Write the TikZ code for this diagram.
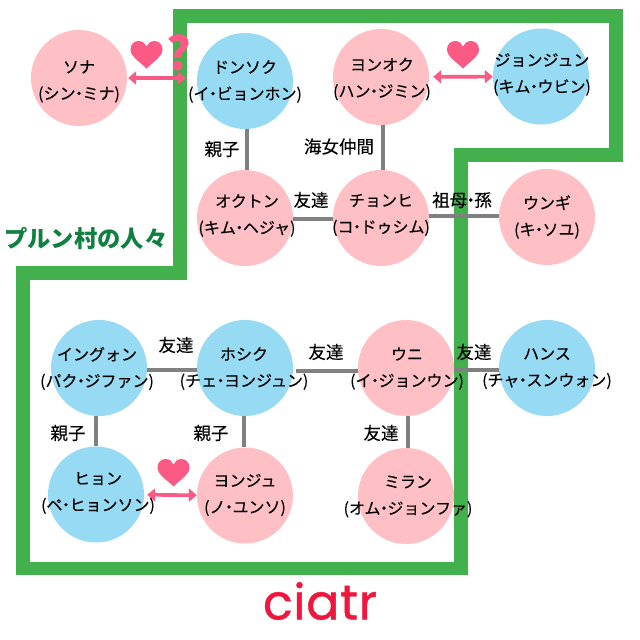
\documentclass[tikz,border=0pt]{standalone}
\usepackage{fontspec}
\setmainfont{Noto Sans CJK JP}[FakeBold=0.2,BoldFeatures={FakeBold=0}]
\newfontfamily\logofont{Poppins}[FakeBold=0.9,LetterSpace=1.5]
\usetikzlibrary{arrows.meta}
\definecolor{pinkc}{HTML}{FFC0C5}
\definecolor{bluec}{HTML}{97DAF4}
\definecolor{greenb}{HTML}{42B04C}
\definecolor{greent}{HTML}{0F8040}
\definecolor{grayl}{HTML}{808080}
\definecolor{love}{HTML}{FB5A85}
\definecolor{logor}{HTML}{F0173F}
\newcommand{\nd}{\makebox[7pt][c]{・}}
\tikzset{
  x=1pt,y=-1pt,
  girl/.style={circle,fill=pinkc,minimum size=96pt,inner sep=0pt},
  boy/.style={circle,fill=bluec,minimum size=96pt,inner sep=0pt},
  who/.style={align=center,inner sep=0pt,font=\fontsize{16}{26.5}\selectfont},
  tie/.style={draw=grayl,line width=4pt},
  tietext/.style={inner sep=0pt,font=\fontsize{17.5}{20}\selectfont},
  lovearrow/.style={draw=love,line width=3.6pt,{Triangle[length=8pt,width=13pt]}-{Triangle[length=8pt,width=13pt]}},
  heartpic/.pic={\fill[love] (0,13.5) .. controls (-5,8) and (-16,2) .. (-16,-5.5) .. controls (-16,-10.5) and (-12.5,-14) .. (-8,-14) .. controls (-4,-14) and (-1.2,-11.5) .. (0,-8.5) .. controls (1.2,-11.5) and (4,-14) .. (8,-14) .. controls (12.5,-14) and (16,-10.5) .. (16,-5.5) .. controls (16,2) and (5,8) .. (0,13.5) -- cycle;}
}
\begin{document}
\begin{tikzpicture}
\useasboundingbox[fill=white] (0,0) rectangle (640,640);
% border
\draw[greenb,line width=13.8pt,miter limit=10] (23,568.5) -- (23,273) -- (180,273) -- (180,16) -- (616,16) -- (616,155) -- (461,155) -- (461,568.5) -- cycle;
% circles
\node[girl] (yuna) at (79,78) {};
\node[boy] (donsok) at (245,81) {};
\node[girl] (okton) at (245,218) {};
\node[girl] (yonok) at (381,77) {};
\node[boy] (jongjun) at (541,76.5) {};
\node[girl] (chonhi) at (381,218) {};
\node[girl] (ungi) at (547,217) {};
\node[boy] (ingwon) at (99,368) {};
\node[boy] (hosik) at (245,368) {};
\node[girl] (uni) at (406,368) {};
\node[boy] (hans) at (547,368) {};
\node[boy] (hyon) at (96,494.5) {};
\node[girl] (yonju) at (245,495.5) {};
\node[girl] (miran) at (406,496) {};
% ties
\draw[tie] ([xshift=2pt]donsok.south) -- ([xshift=2pt]okton.north);
\draw[tie] ([xshift=2pt]yonok.south) -- ([xshift=2pt]chonhi.north);
\draw[tie] ([yshift=-1pt]okton.east) -- ([yshift=-1pt]chonhi.west);
\draw[tie] ([yshift=2pt]chonhi.east) -- ([yshift=1pt]ungi.west);
\draw[tie] ([yshift=-2pt]ingwon.east) -- ([yshift=-2pt]hosik.west);
\draw[tie,shorten <=3pt] ([yshift=-3pt]hosik.east) -- ([yshift=-3pt]uni.west);
\draw[tie] ([yshift=-2pt]uni.east) -- ([yshift=-2pt]hans.west);
\draw[tie] ([xshift=-3pt]ingwon.south) -- (hyon.north);
\draw[tie] ([xshift=-1pt]hosik.south) -- ([xshift=-1pt]yonju.north);
\draw[tie] ([xshift=2pt]uni.south) -- ([xshift=2pt]miran.north);
% love arrows
\coordinate (donsokside) at (186,78);
\draw[lovearrow,shorten <=1pt] (yuna.east) -- (donsokside);
\draw[lovearrow,shorten <=4pt] (yonok) -- (jongjun);
\draw[lovearrow,shorten <=3pt] (hyon) -- (yonju);
\pic at (146.5,55) {heartpic};
\pic at (463,55) {heartpic};
\pic at (173.5,473) {heartpic};
\node[inner sep=0pt,text=love,font=\fontsize{46}{48}\selectfont\bfseries] (qmark) at (179,53) {?};
% names
\node[who] (yunat) at (79,81.5) {ソナ\\(シン\nd ミナ)};
\node[who] (donsokt) at (245,81.5) {ドンソク\\(イ\nd ビョンホン)};
\node[who] (oktont) at (247,215.5) {オクトン\\(キム\nd ヘジャ)};
\node[who] (yonokt) at (382,79) {ヨンオク\\(ハン\nd ジミン)};
\node[who] (jongjunt) at (542,74.5) {ジョンジュン\\(キム\nd ウビン)};
\node[who] (chonhit) at (381,215) {チョンヒ\\(コ\nd ドゥシム)};
\node[who] (ungit) at (547,217) {ウンギ\\(キ\nd ソユ)};
\node[who] (ingwont) at (97,368.5) {イングォン\\(パク\nd ジファン)};
\node[who] (hosikt) at (244,368.5) {ホシク\\(チェ\nd ヨンジュン)};
\node[who] (unit) at (407,368.5) {ウニ\\(イ\nd ジョンウン)};
\node[who] (hanst) at (547,368.5) {ハンス\\(チャ\nd スンウォン)};
\node[who] (hyont) at (98,493) {ヒョン\\(ペ\nd ヒョンソン)};
\node[who] (yonjut) at (245,495) {ヨンジュ\\(ノ\nd ユンソ)};
\node[who] (mirant) at (408,496.5) {ミラン\\(オム\nd ジョンファ)};
% tie labels
\node[tietext] (l1) at (222,149) {親子};
\node[tietext] (l2) at (339,146.5) {海女仲間};
\node[tietext] (l3) at (311,200) {友達};
\node[tietext] (l4) at (462,200) {祖母\nd 孫};
\node[tietext] (l5) at (176,345) {友達};
\node[tietext] (l6) at (326,352) {友達};
\node[tietext] (l7) at (474,352) {友達};
\node[tietext] (l8) at (68,433) {親子};
\node[tietext] (l9) at (211,433) {親子};
\node[tietext] (l10) at (381,433) {友達};
% title
\node[inner sep=0pt,text=greent,font=\fontsize{23.3}{26}\selectfont\bfseries] (village) at (86,239) {プルン村の人々};
\node[inner sep=0pt,text=logor,font=\logofont\fontsize{49}{52}\selectfont] (logo) at (320,601) {ciatr};
\end{tikzpicture}
\end{document}
